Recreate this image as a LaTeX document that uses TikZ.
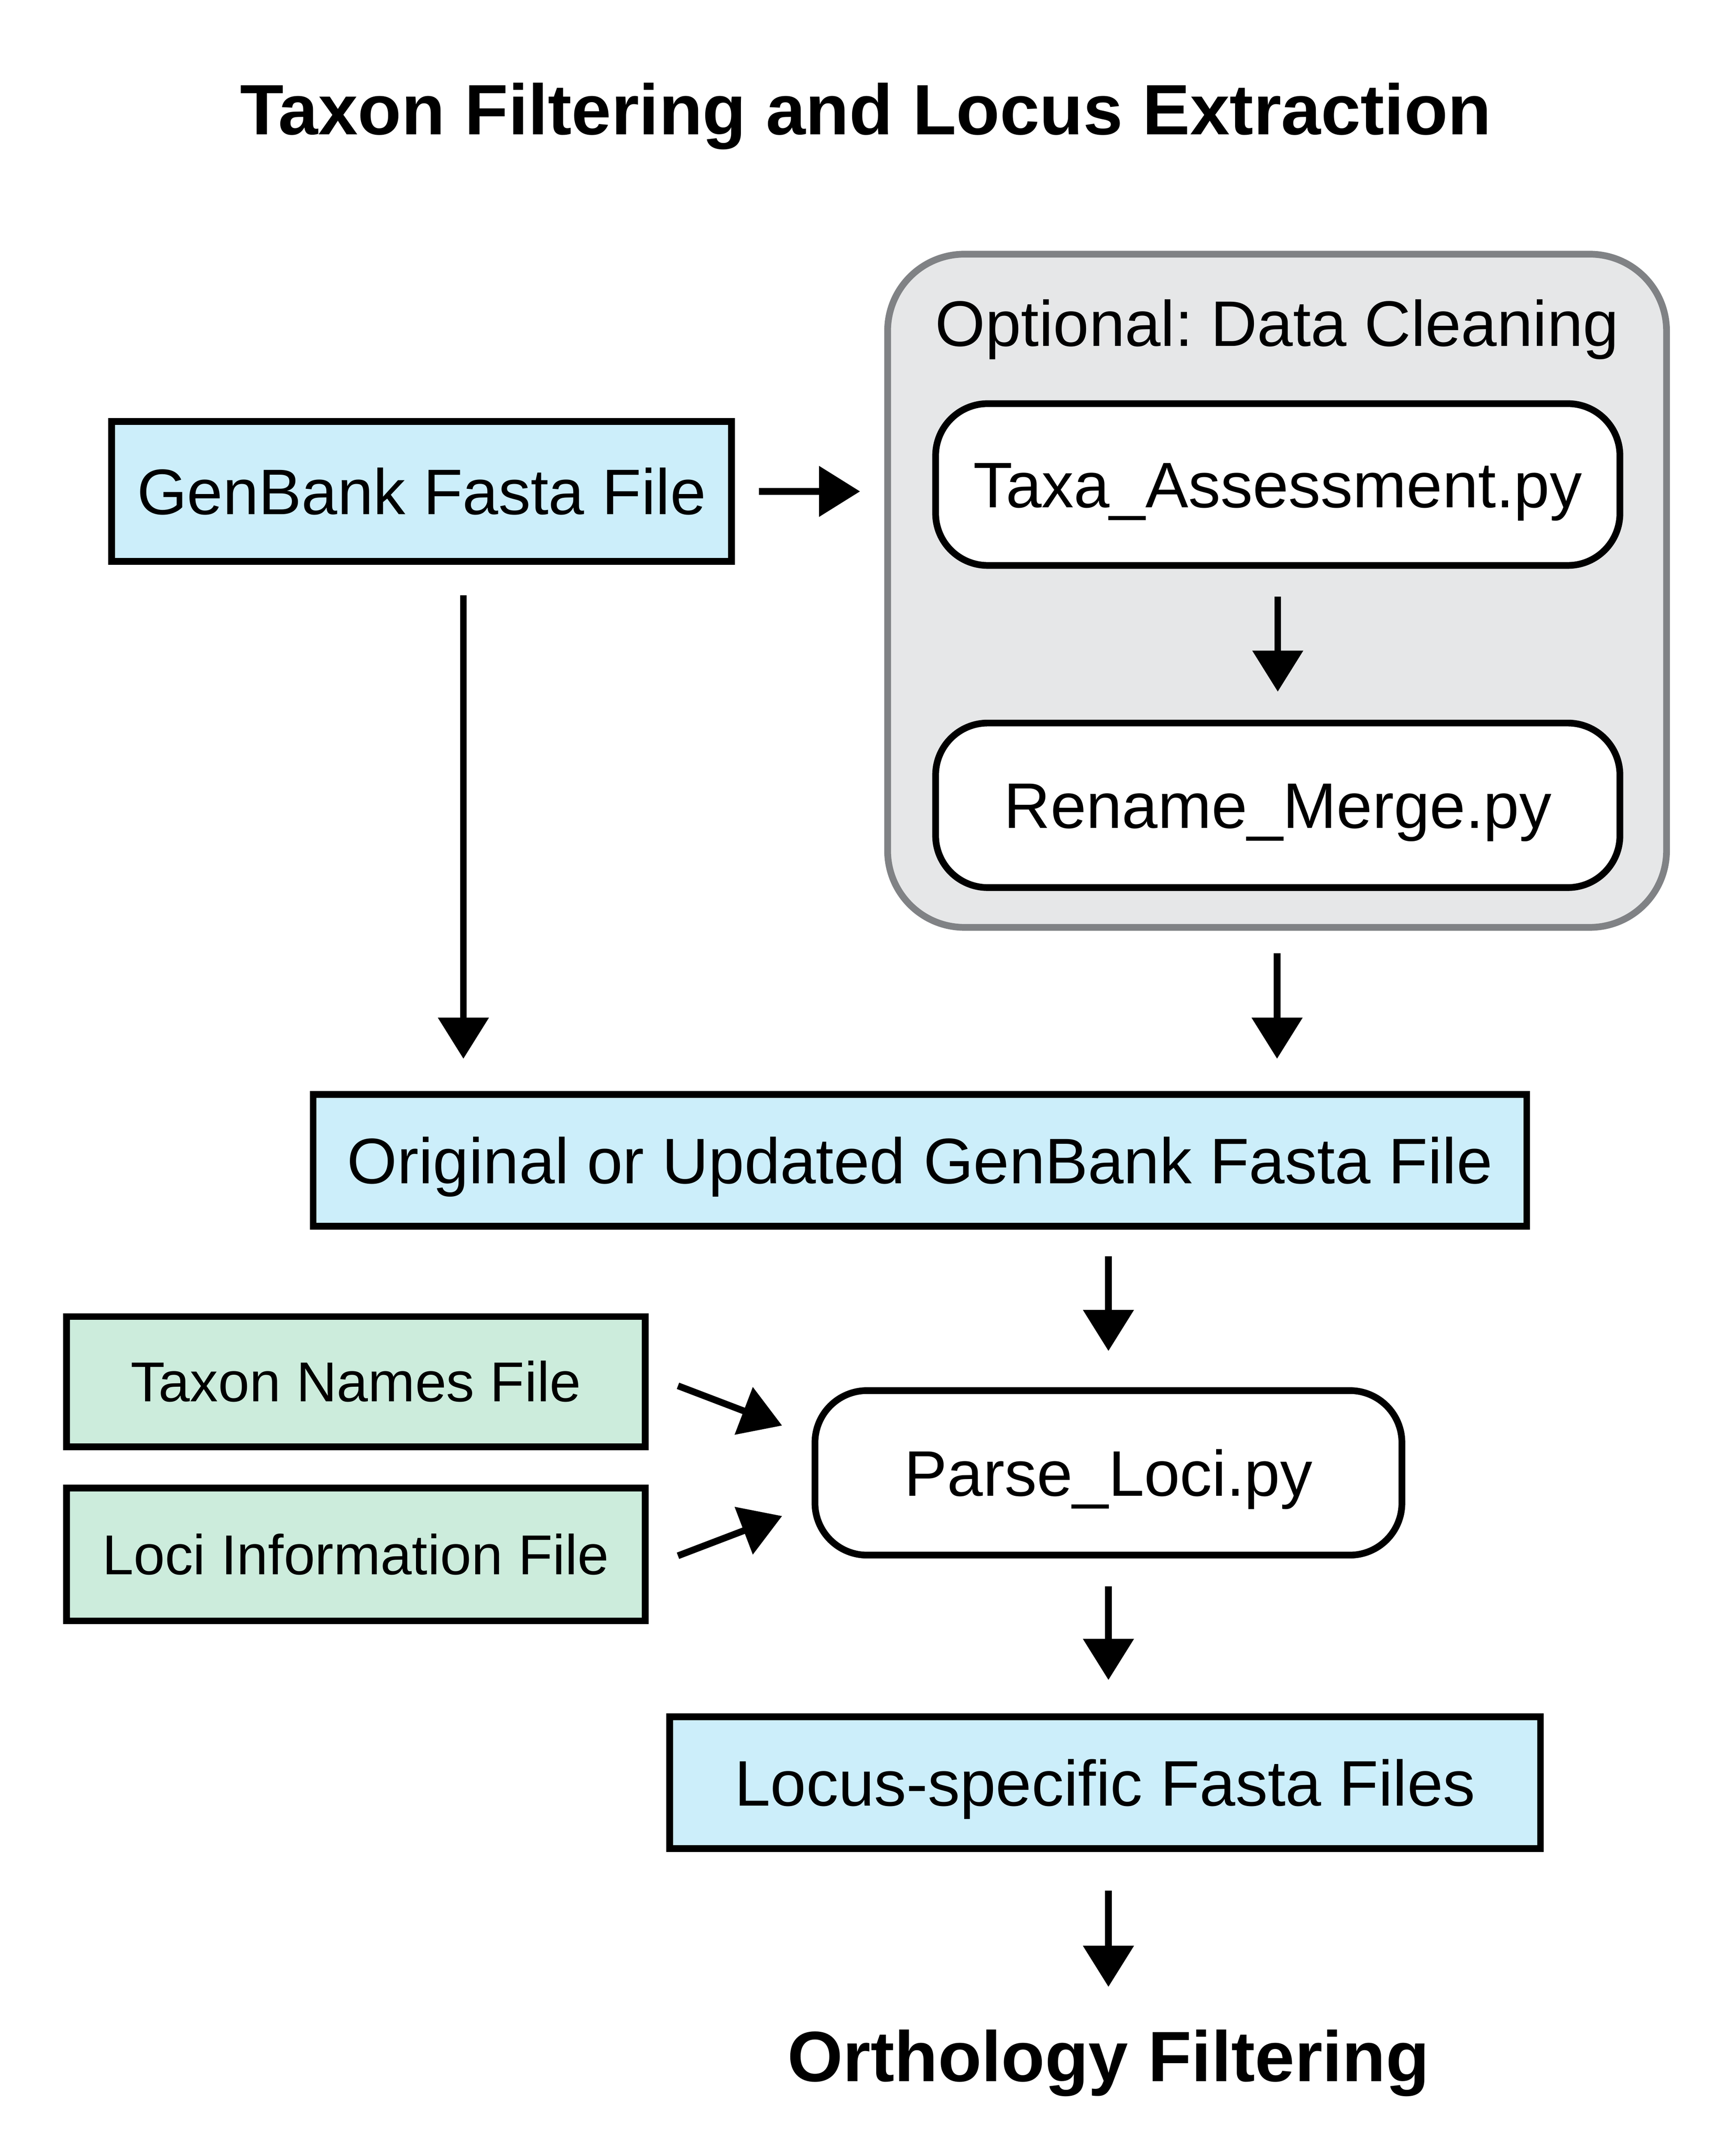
\documentclass[tikz,border=0pt]{standalone}
\usepackage{fontspec}
\setmainfont{Liberation Sans}
\usetikzlibrary{arrows.meta}
\definecolor{boxblue}{RGB}{204,238,250}
\definecolor{boxgreen}{RGB}{204,236,220}
\definecolor{grpfill}{RGB}{230,231,232}
\definecolor{grpline}{RGB}{128,130,133}
\begin{document}
\frenchspacing
\begin{tikzpicture}[x=0.025cm,y=-0.025cm,
  txt/.style={font=\fontsize{33.4}{40}\selectfont, text height=0.84cm, text depth=0pt, inner sep=0pt, align=center},
  filebox/.style={txt, draw=black, line width=3.5pt, fill=boxblue, rectangle},
  greenbox/.style={filebox, fill=boxgreen, font=\fontsize{29.2}{35}\selectfont, text height=0.73cm},
  scriptbox/.style={txt, draw=black, line width=3.5pt, fill=white, rectangle, rounded corners=0.95cm},
  arr/.style={line width=3.5pt, -{Triangle[length=0.75cm,width=0.9cm]}},
  heading/.style={font=\bfseries\fontsize{37}{44}\selectfont, text height=0.93cm, text depth=0pt, inner sep=0pt}
]
\fill[white] (0,0) rectangle (1266,1565.6);
\useasboundingbox (0,0) rectangle (1266,1565.6);

\node[heading] (title) at (631.5,79.5) {Taxon Filtering and Locus Extraction};

\node[draw=grpline, fill=grpfill, line width=3.5pt, rounded corners=1.4cm, minimum width=14.2cm, minimum height=12.275cm, inner sep=0pt] (grp) at (931.5,431) {};
\node[txt] (opt) at (931.5,235.6) {Optional: Data Cleaning};
\node[scriptbox, minimum width=12.475cm, minimum height=2.95cm] (taxa) at (932,353.5) {Taxa\_Assessment.py};
\node[scriptbox, minimum width=12.475cm, minimum height=3cm] (ren) at (932,587.5) {Rename\_Merge.py};

\node[filebox, minimum width=11.3cm, minimum height=2.55cm] (gen) at (307.5,358.5) {GenBank Fasta File};
\node[filebox, minimum width=22.125cm, minimum height=2.4cm] (orig) at (671,846.5) {Original or Updated GenBank Fasta File};
\node[scriptbox, minimum width=10.7cm, minimum height=3cm] (parse) at (808.5,1074.5) {Parse\_Loci.py};
\node[greenbox, minimum width=10.55cm, minimum height=2.375cm] (taxon) at (259.5,1008) {Taxon Names File};
\node[greenbox, minimum width=10.55cm, minimum height=2.425cm] (loci) at (259.5,1134) {Loci Information File};
\node[filebox, minimum width=15.875cm, minimum height=2.4cm] (locus) at (806,1300.5) {Locus-specific Fasta Files};
\node[heading] (ortho) at (808.5,1500) {Orthology Filtering};

\coordinate (c338) at (338,0);

\draw[arr, shorten <=0.44cm, shorten >=0.44cm] (gen.east) -- (gen.east -| grp.west);
\draw[arr, shorten <=0.56cm, shorten >=0.59cm] (gen.south -| c338) -- (orig.north -| c338);
\draw[arr, shorten <=0.51cm, shorten >=0.51cm] (taxa.south) -- (ren.north);
\draw[arr, shorten <=0.41cm, shorten >=0.59cm] (grp.south) -- (orig.north -| grp.south);
\draw[arr, shorten <=0.49cm, shorten >=0.66cm] (orig.south -| parse.north) -- (parse.north);
\draw[arr] ([shift={(21.5,3)}]taxon.east) -- ([shift={(-21.5,-34.5)}]parse.west);
\draw[arr] ([shift={(21.5,1)}]loci.east) -- ([shift={(-21.5,31.5)}]parse.west);
\draw[arr, shorten <=0.51cm, shorten >=0.61cm] (parse.south) -- (locus.north -| parse.south);
\draw[arr, shorten <=0.71cm, shorten >=0.79cm] (locus.south -| ortho.north) -- (ortho.north);
\end{tikzpicture}
\end{document}
